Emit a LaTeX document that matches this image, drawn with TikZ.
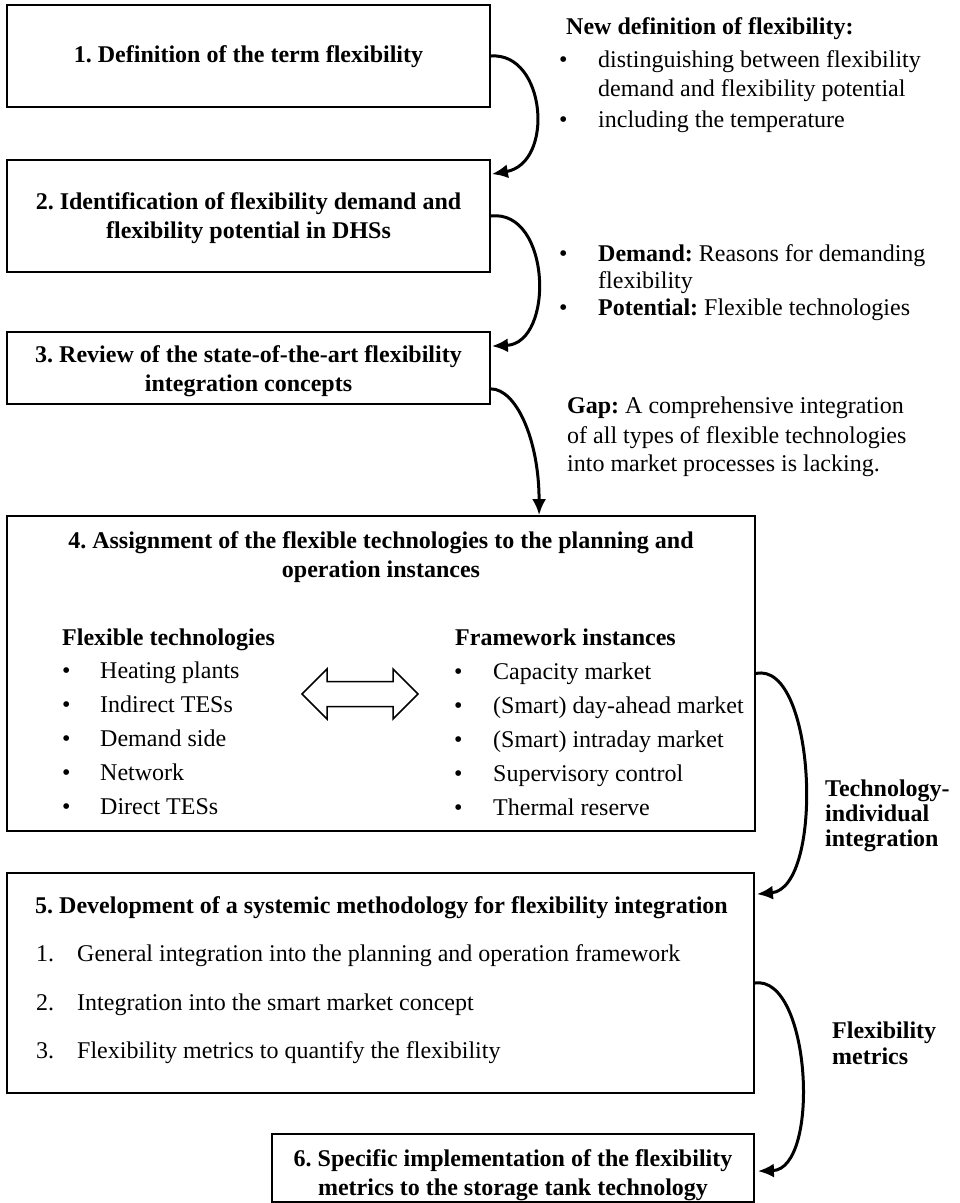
\documentclass[tikz,border=0pt]{standalone}
\usepackage{fontspec}
\setmainfont{Liberation Serif}
\usetikzlibrary{calc,arrows.meta}
\frenchspacing
\begin{document}
\begin{tikzpicture}[x=1pt,y=-1pt,
  txt/.style={font=\fontsize{24}{29}\selectfont, inner sep=0pt},
  btxt/.style={font=\fontsize{24}{29}\selectfont\bfseries, inner sep=0pt},
  lbl/.style={txt, anchor=base west},
  blbl/.style={btxt, anchor=base west},
  stepbox/.style={draw, line width=1.8pt, inner sep=0pt},
  flow/.style={line width=3pt, -{Latex[length=16pt,width=14pt]}},
  ]
\useasboundingbox (0,0) rectangle (960,1203);

% ---- process steps (frames) ----
\node[stepbox, minimum width=483pt, minimum height=102pt] (b1) at (248.5,56) {};
\node[stepbox, minimum width=483pt, minimum height=112pt] (b2) at (248.5,216) {};
\node[stepbox, minimum width=483pt, minimum height=72pt] (b3) at (248.5,368) {};
\node[stepbox, minimum width=748pt, minimum height=315pt] (b4) at (381,673.5) {};
\node[stepbox, minimum width=747pt, minimum height=220pt] (b5) at (380.5,983) {};
\node[stepbox, minimum width=482pt, minimum height=68pt] (b6) at (513,1168) {};

% ---- step titles ----
\node[btxt, align=center] (t1) at (248.5,57) {1. Definition of the term flexibility};
\node[btxt, align=center] (t2) at (248.5,218)
  {2. Identification of flexibility demand and\\flexibility potential in DHSs};
\node[btxt, align=center] (t3) at (248.5,371)
  {3. Review of the state-of-the-art flexibility\\integration concepts};
\node[btxt, align=center] (t4) at (381,557)
  {4. Assignment of the flexible technologies to the planning and\\operation instances};
\node[btxt, align=center] (t6) at (513,1175)
  {6. Specific implementation of the flexibility\\metrics to the storage tank technology};

% ---- step 4 contents ----
\node[blbl] (fth) at (62,645) {Flexible technologies};
\foreach \t [count=\i from 0] in {Heating plants, Indirect TESs, Demand side, Network, Direct TESs}{
  \node[lbl] (ftb\i) at (62,{678+34*\i}) {•};
  \node[lbl] (ftx\i) at (100,{678+34*\i}) {\t};
}
\node[blbl] (fih) at (455,645) {Framework instances};
\foreach \t [count=\i from 0] in {{Capacity market}, {(Smart) day-ahead market}, {(Smart) intraday market}, {Supervisory control}, {Thermal reserve}}{
  \node[lbl] (fib\i) at (454,{679+34*\i}) {•};
  \node[lbl] (fix\i) at (493,{679+34*\i}) {\t};
}
\draw[line width=1.5pt, fill=white]
  (302,694) -- (327,669) -- (327,681.5) -- (393,681.5) -- (393,669) -- (418,694)
  -- (393,719) -- (393,706.5) -- (327,706.5) -- (327,719) -- cycle;

% ---- step 5 contents ----
\node[blbl] (b5t) at (35,913) {5. Development of a systemic methodology for flexibility integration};
\foreach \t [count=\i] in {General integration into the planning and operation framework,
  Integration into the smart market concept, Flexibility metrics to quantify the flexibility}{
  \node[lbl] (mn\i) at (36,{913+48.5*\i}) {\i.};
  \node[lbl] (mt\i) at (77,{913+48.5*\i}) {\t};
}

% ---- side notes ----
\node[blbl] (n1h) at (566,34) {New definition of flexibility:};
\node[lbl] (n1b1) at (559,67) {•};
\node[lbl] (n1a) at (598,67) {distinguishing between flexibility};
\node[lbl] (n1b) at (598,96) {demand and flexibility potential};
\node[lbl] (n1b2) at (559,127) {•};
\node[lbl] (n1c) at (598,127) {including the temperature};

\node[lbl] (n2b1) at (559,261) {•};
\node[lbl] (n2a) at (598,261) {\textbf{Demand:} Reasons for demanding};
\node[lbl] (n2b) at (598,288) {flexibility};
\node[lbl] (n2b2) at (559,315) {•};
\node[lbl] (n2c) at (598,315) {\textbf{Potential:} Flexible technologies};

\node[lbl] (n3a) at (567,413) {\textbf{Gap:} A comprehensive integration};
\node[lbl] (n3b) at (567,443) {of all types of flexible technologies};
\node[lbl] (n3c) at (567,471) {into market processes is lacking.};

\node[blbl] (l4a) at (825,796) {Technology-};
\node[blbl] (l4b) at (825,821) {individual};
\node[blbl] (l4c) at (825,846) {integration};
\node[blbl] (l5a) at (832,1038) {Flexibility};
\node[blbl] (l5b) at (832,1064) {metrics};

% ---- connectors ----
\draw[flow] (b1.east) .. controls +(55,-4) and +(63,-11) .. ($(b2.north east)+(1,15)$);
\draw[flow] (b2.east) .. controls +(60,-7) and +(63,-3) .. ($(b3.north east)+(1,15)$);
\draw[flow] ($(b3.south east)+(0,-16)$) .. controls +(25,0) and +(0,-76) .. ($(b4.north west)+(533,0)$);
\draw[flow] (b4.east) .. controls +(60,-13) and +(68,-6) .. ($(b5.north east)+(2,22)$);
\draw[flow] (b5.east) .. controls +(56,-8) and +(63,-2) .. ($(b6.north east)+(3,38)$);
\end{tikzpicture}
\end{document}
